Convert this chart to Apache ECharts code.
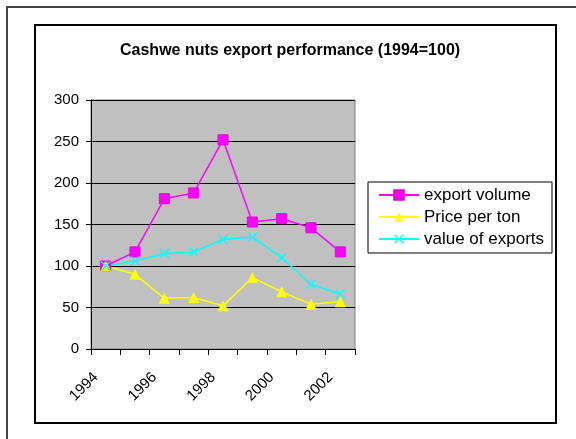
<!DOCTYPE html>
<html>
<head>
<meta charset="utf-8">
<script src="https://cdn.jsdelivr.net/npm/echarts@6/dist/echarts.min.js"></script>
<style>
  html, body { margin: 0; padding: 0; background: #fff; }
  #chart { width: 576px; height: 439px; }
</style>
</head>
<body>
<div id="chart"></div>
<script>
const years = ['1994', '1995', '1996', '1997', '1998', '1999', '2000', '2001', '2002'];
const exportVolume = [100, 117, 181, 188, 252, 153, 157, 146, 117];
const pricePerTon = [100, 90, 61, 62, 52, 86, 69, 54, 57];
const valueOfExports = [100, 106, 115, 117, 132, 135, 110, 78, 66];

const FONT = '"Liberation Sans", Arial, sans-serif';
// thin X drawn as two filled bars so it shows in the legend too
const CROSS = 'path://M0,1L1,0L10,9L9,10ZM9,0L10,1L1,10L0,9Z';

const chart = echarts.init(document.getElementById('chart'));

chart.setOption({
    backgroundColor: '#fff',
    animation: false,
    textStyle: { fontFamily: FONT },
    title: {
        text: 'Cashwe nuts export performance (1994=100)',
        left: 115,
        top: 38,
        textStyle: { fontFamily: FONT, fontSize: 16, fontWeight: 'bold', color: '#000' },
    },
    graphic: [
        { type: 'polyline', shape: { points: [[7, 440], [7, 7], [577, 7]] }, style: { stroke: '#444', lineWidth: 2, fill: null }, silent: true },
        { type: 'rect', shape: { x: 35, y: 25, width: 521, height: 398 }, style: { stroke: '#000', lineWidth: 2, fill: null }, silent: true },
    ],
    legend: {
        orient: 'vertical',
        left: 368,
        top: 182,
        padding: [2, 8, 3, 10],
        itemWidth: 40,
        itemHeight: 12,
        itemGap: 0,
        borderColor: '#000',
        borderWidth: 1,
        backgroundColor: '#fff',
        textStyle: { fontFamily: FONT, fontSize: 17, color: '#000', lineHeight: 22 },
        data: ['export volume', 'Price per ton', 'value of exports'],
    },
    grid: {
        left: 91,
        right: 221,
        top: 100,
        bottom: 90,
        show: true,
        backgroundColor: '#c0c0c0',
        borderColor: '#808080',
        borderWidth: 1,
    },
    xAxis: {
        type: 'category',
        data: years,
        boundaryGap: true,
        axisLine: { lineStyle: { color: '#000', width: 1 } },
        axisTick: { show: true, interval: 0, length: 6, lineStyle: { color: '#000' } },
        axisLabel: {
            interval: 1,
            rotate: 45,
            margin: 16,
            padding: [0, 14, 0, 0],
            fontFamily: FONT,
            fontSize: 15,
            color: '#000',
        },
        splitLine: { show: false },
    },
    yAxis: {
        type: 'value',
        min: 0,
        max: 300,
        interval: 50,
        axisLine: { show: true, lineStyle: { color: '#000', width: 1 } },
        axisTick: { show: true, length: 5, lineStyle: { color: '#000' } },
        axisLabel: { margin: 12, fontFamily: FONT, fontSize: 15, color: '#000' },
        splitLine: { show: true, lineStyle: { color: '#000', width: 1 } },
    },
    series: [
        {
            name: 'export volume',
            type: 'line',
            data: exportVolume,
            symbol: 'rect',
            symbolSize: 10,
            lineStyle: { color: '#ff00ff', width: 1.5 },
            itemStyle: { color: '#ff00ff', borderColor: '#e000e0', borderWidth: 1 },
        },
        {
            name: 'Price per ton',
            type: 'line',
            data: pricePerTon,
            symbol: 'triangle',
            symbolSize: 11,
            lineStyle: { color: '#ffff00', width: 1.5 },
            itemStyle: { color: '#ffff00', borderWidth: 0 },
        },
        {
            name: 'value of exports',
            type: 'line',
            data: valueOfExports,
            symbol: CROSS,
            symbolSize: 10,
            lineStyle: { color: '#00ffff', width: 1.5 },
            itemStyle: { color: '#00ffff', borderWidth: 0 },
        },
    ],
});
</script>
</body>
</html>
